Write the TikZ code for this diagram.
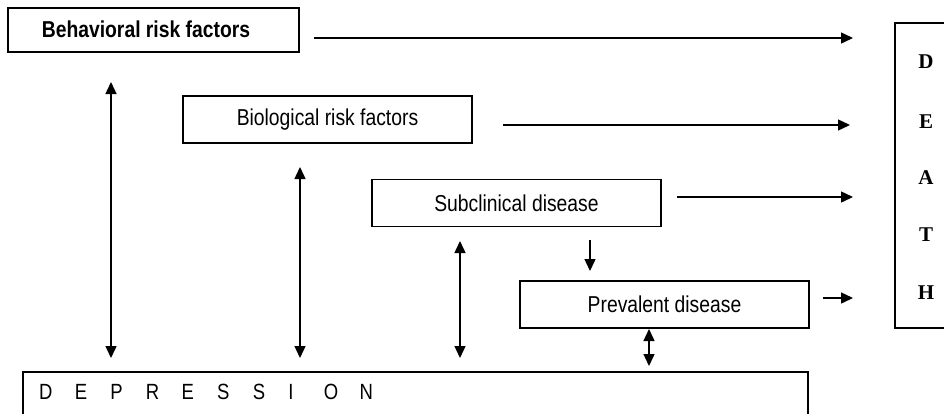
\documentclass[tikz,border=0pt]{standalone}
\usepackage{fontspec}
\setmainfont{Liberation Sans}[FakeStretch=0.84]
\newfontfamily\deathfont{Liberation Serif}
\usetikzlibrary{arrows.meta}
\tikzset{
  box/.style={draw, line width=1.6pt, inner sep=0pt, font=\fontsize{23}{27}\selectfont},
  conn/.style={line width=1.4pt, -{Triangle[length=12pt,width=11pt]}},
  biconn/.style={line width=1.4pt, {Triangle[length=12pt,width=11pt]}-{Triangle[length=12pt,width=11pt]}},
  dletter/.style={font=\deathfont\bfseries\fontsize{21}{25}\selectfont, inner sep=0pt},
}
\newcommand{\myspc}[1]{\makebox[35.6pt][l]{#1}}
\begin{document}
\begin{tikzpicture}[x=1pt,y=-1pt]
\useasboundingbox (0,0) rectangle (944,413);
\clip (0,0) rectangle (944,413);
% boxes
\node[box, minimum width=291pt, minimum height=44pt] (beh) at (153.5,30) {};
\node[font=\bfseries\fontsize{23}{27}\selectfont, inner sep=0pt] (behtxt) at (146,29) {Behavioral risk factors};
\node[box, minimum width=289pt, minimum height=47pt] (bio) at (327.5,119.5) {Biological risk factors};
\node[box, minimum width=289pt, minimum height=47pt] (sub) at (516.5,203) {Subclinical disease};
\node[box, minimum width=289pt, minimum height=47pt] (pre) at (664.5,304.5) {Prevalent disease};
\node[box, minimum width=785pt, minimum height=80pt] (dep) at (415.5,412) {};
\node[font=\fontsize{22}{26}\selectfont, inner sep=0pt, anchor=west] (deptxt) at (39,392)
  {\myspc{D}\myspc{E}\myspc{P}\myspc{R}\myspc{E}\myspc{S}\myspc{S}\myspc{I}\myspc{O}N};
\node[box, minimum width=70pt, minimum height=305pt] (death) at (930,175.5) {};
\node[dletter] (d1) at (926,62) {D};
\node[dletter] (d2) at (926,122) {E};
\node[dletter] (d3) at (926,178) {A};
\node[dletter] (d4) at (926,235) {T};
\node[dletter] (d5) at (926,293) {H};
% coordinates for connectors
\coordinate (a1s) at (314,38);  \coordinate (a1e) at (853,38);
\coordinate (a2s) at (503,125); \coordinate (a2e) at (850,125);
\coordinate (a3s) at (677,197); \coordinate (a3e) at (853,197);
\coordinate (a4s) at (823,298); \coordinate (a4e) at (853,298);
\draw[conn] (a1s) -- (a1e);
\draw[conn] (a2s) -- (a2e);
\draw[conn] (a3s) -- (a3e);
\draw[conn] (a4s) -- (a4e);
\coordinate (v1t) at (111,82);  \coordinate (v1b) at (111,358);
\coordinate (v2t) at (300,167); \coordinate (v2b) at (300,358);
\coordinate (v3t) at (460,241); \coordinate (v3b) at (460,358);
\coordinate (v4t) at (649,329); \coordinate (v4b) at (649,366);
\coordinate (dnt) at (590,240); \coordinate (dnb) at (590,271);
\draw[biconn] (v1t) -- (v1b);
\draw[biconn] (v2t) -- (v2b);
\draw[biconn] (v3t) -- (v3b);
\draw[biconn] (v4t) -- (v4b);
\draw[conn] (dnt) -- (dnb);
\end{tikzpicture}
\end{document}
